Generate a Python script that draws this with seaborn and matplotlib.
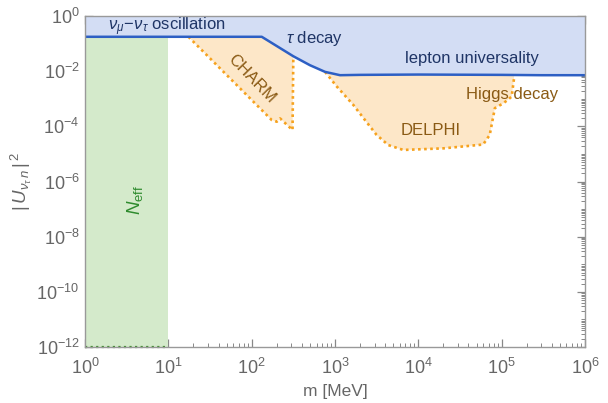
import numpy as np
import pandas as pd
import matplotlib
matplotlib.use("Agg")
import matplotlib.pyplot as plt
import matplotlib.ticker as mticker
import seaborn as sns

# ---- data ----
# upper bound: nu_mu-nu_tau oscillation / tau decay / lepton universality
blue_m = [1, 132, 316, 500, 760, 1150, 2000, 10000, 1e5, 3e5, 1e6]
blue_u2 = [0.178, 0.178, 0.035, 0.0166, 0.0095, 0.0072, 0.0074, 0.0076, 0.0074, 0.0072, 0.0072]

# CHARM lower edge
charm_m = [17.4, 174, 200, 219, 309, 316]
charm_u2 = [0.178, 1.7e-4, 1.48e-4, 1.95e-4, 7.4e-5, 0.035]

# DELPHI + Higgs decay lower edge
delphi_m = [760, 1050, 1660, 2290, 3160, 4370, 6600, 20000, 60000, 72000, 83000, 105000, 132000, 141000]
delphi_u2 = [9.5e-3, 2.8e-3, 6.0e-4, 1.7e-4, 4.9e-5, 2.1e-5, 1.4e-5, 1.6e-5, 2.2e-5, 4.9e-5, 4.6e-4, 6.9e-4, 1.2e-3, 5.5e-3]

# N_eff band
neff_m = [1, 10]

# labelled ticks
x_ticks = [1e0, 1e1, 1e2, 1e3, 1e4, 1e5, 1e6]
y_ticks = [1e-12, 1e-10, 1e-8, 1e-6, 1e-4, 1e-2, 1e0]

sns.set_style("ticks")
plt.rcParams['font.family'] = ['Liberation Sans', 'DejaVu Sans']
plt.rcParams['mathtext.fontset'] = 'custom'
plt.rcParams['mathtext.rm'] = 'Liberation Sans'
plt.rcParams['mathtext.it'] = 'Liberation Sans:italic'

gray = '#666666'
navy = '#1f3566'
brown = '#8a5a14'

fig = plt.figure(figsize=(6.08, 4.03), dpi=100)
ax = fig.add_axes([0.14, 0.139, 0.822, 0.821])
ax.set_xscale('log')
ax.set_yscale('log')

# N_eff (green)
ax.fill_between(neff_m, [1e-12, 1e-12], [1, 1], color='#d4eacb', lw=0, zorder=1)
ax.plot(neff_m, [1e-12, 1e-12], color='#3f8a2e', ls=(0, (1, 1.5)), lw=1.6, zorder=2, clip_on=False)

# orange regions
for xs, ys in [(charm_m, charm_u2), (delphi_m, delphi_u2)]:
    px = list(xs) + [xs[-1], xs[0]]
    py = list(ys) + [1, 1]
    ax.fill(px, py, color='#fde7c8', lw=0, zorder=1)
    df = pd.DataFrame({'m': xs, 'u2': ys})
    sns.lineplot(data=df, x='m', y='u2', ax=ax, color='#f6a21e', lw=1.9,
                 ls=(0, (1, 1.3)), sort=False, zorder=2)

# blue excluded region on top
ax.fill_between(blue_m, blue_u2, 1, color='#d3ddf4', lw=0, zorder=3)
sns.lineplot(x=blue_m, y=blue_u2, ax=ax, color='#2d5fc4', lw=1.8, zorder=4)

# labels
ax.text(9.5, 0.4, r'$\nu_\mu\!-\!\nu_\tau$ oscillation', color=navy, fontsize=12,
        ha='center', va='center', zorder=5)
ax.text(575, 0.16, r'$\tau$ decay', color=navy, fontsize=12,
        ha='center', va='center', zorder=5)
ax.text(4.4e4, 0.028, 'lepton universality', color=navy, fontsize=12,
        ha='center', va='center', zorder=5)
ax.text(100, 5.5e-3, 'CHARM', color=brown, fontsize=12, rotation=-46,
        ha='center', va='center', zorder=5)
ax.text(1.4e4, 7e-5, 'DELPHI', color=brown, fontsize=12,
        ha='center', va='center', zorder=5)
ax.text(1.33e5, 1.4e-3, 'Higgs decay', color=brown, fontsize=12,
        ha='center', va='center', zorder=5)
ax.text(4.0, 2.1e-7, r'$N_{\rm eff}$', color='#2e8b2e', fontsize=13.5, rotation=90,
        ha='center', va='center', zorder=5)

ax.set_xlabel('m [MeV]', color=gray, fontsize=12.5, labelpad=4)
ax.set_ylabel(r'$|\,U_{\nu_\tau\, n}\,|^{\,2}$', color=gray, fontsize=13.5, labelpad=2)

# ticks in Mathematica style
ax.set_xticks(x_ticks)
ax.set_yticks(y_ticks)
ax.xaxis.set_minor_locator(mticker.LogLocator(base=10, subs=np.arange(2, 10), numticks=20))
ax.yaxis.set_minor_locator(mticker.LogLocator(base=10, subs=np.arange(1, 10), numticks=20))
fmt = mticker.LogFormatterMathtext(base=10)
ax.xaxis.set_major_formatter(fmt)
ax.yaxis.set_major_formatter(mticker.LogFormatterMathtext(base=10))
ax.xaxis.set_minor_formatter(mticker.NullFormatter())
ax.yaxis.set_minor_formatter(mticker.NullFormatter())
ax.set_xlim(1, 1e6)
ax.set_ylim(1e-12, 1)
ax.tick_params(which='both', direction='in', top=True, right=True, colors='#888888',
               labelcolor=gray, labelsize=13)
ax.tick_params(which='major', length=6, width=0.9)
ax.tick_params(which='minor', length=3, width=0.7)
ax.tick_params(axis='x', which='major', pad=8)
ax.tick_params(axis='y', which='major', pad=4)
for sp in ax.spines.values():
    sp.set_color('#999999')
    sp.set_linewidth(1.0)
    sp.set_zorder(6)

fig.savefig('out.png', dpi=100)
